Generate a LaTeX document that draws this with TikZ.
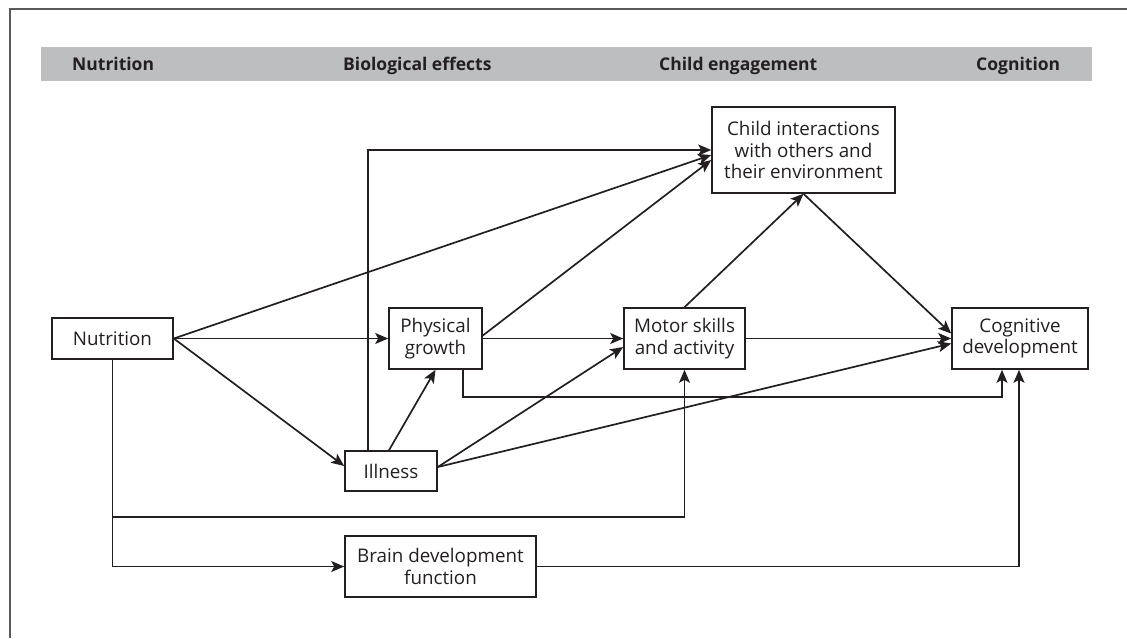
\documentclass[tikz,border=0pt]{standalone}
\usepackage{fontspec}
\setmainfont{Open Sans}
\usetikzlibrary{arrows.meta,calc}
\definecolor{ink}{HTML}{231F20}
\definecolor{bandgray}{HTML}{BCBEC0}
\definecolor{framegray}{HTML}{58595B}
\begin{document}
\begin{tikzpicture}[x=1pt,y=-1pt,
  box/.style={draw=ink, line width=1.6pt, inner sep=0pt, align=center, text=ink,
    font=\fontsize{18.8}{21.7}\selectfont},
  arr/.style={draw=ink, line width=1.7pt, -{Stealth[length=13pt,width=11pt,inset=3pt]}},
  head/.style={anchor=base west, inner sep=0pt, text=ink, font=\fontsize{17.5}{20}\selectfont\bfseries}]
\useasboundingbox (0,0) rectangle (1127,638);
\draw[framegray, line width=1.5pt] (10,638) -- (10,9) -- (1127,9);
\fill[bandgray] (41,47) rectangle (1092,81);
\node[head] (h1) at (72,70) {Nutrition};
\node[head] (h2) at (343,70) {Biological effects};
\node[head] (h3) at (659,70) {Child engagement};
\node[head] (h4) at (976,70) {Cognition};

\node[box, minimum width=121pt, minimum height=41pt] (nut) at (112.5,338.5) {Nutrition};
\node[box, minimum width=93pt, minimum height=61pt] (phys) at (435.5,338.5) {Physical\\growth};
\node[box, minimum width=92pt, minimum height=40pt] (ill) at (391,471) {Illness};
\node[box, minimum width=121pt, minimum height=61pt] (motor) at (684.5,338.5) {Motor skills\\and activity};
\node[box, minimum width=183pt, minimum height=86pt] (child) at (803.5,150) {Child interactions\\with others and\\their environment};
\node[box, minimum width=136pt, minimum height=61pt] (cog) at (1020,338.5) {Cognitive\\development};
\node[box, minimum width=191pt, minimum height=61pt] (brain) at (440.5,566.5) {Brain development\\function};

\coordinate (j) at ([yshift=-157pt]nut.south);

\draw[arr] (nut.east) -- (phys.west);
\draw[arr] (nut.east) -- ([yshift=-5pt]child.west);
\draw[arr] (nut.east) -- ([yshift=5pt]ill.west);
\draw[arr] ([xshift=-2pt]ill.north) -- (phys.south);
\draw[arr] ([xshift=-23pt]ill.north) |- (child.west);
\draw[arr] ([yshift=3pt]phys.east) -- ([yshift=-10pt]child.west);
\draw[arr] (phys.east) -- (motor.west);
\draw[arr] ([xshift=27.5pt]phys.south) -- ++(0,27) -| ([xshift=-18pt]cog.south);
\draw[arr] ([yshift=4pt]ill.east) -- ([yshift=-8.5pt]motor.west);
\draw[arr] ([yshift=4pt]ill.east) -- ([yshift=-5pt]cog.west);
\draw[arr] (motor.east) -- (cog.west);
\draw[arr] (motor.north) -- (child.south);
\draw[arr] (child.south) -- ([yshift=5pt]cog.west);
\draw[arr] (nut.south) |- (brain.west);
\draw[arr] (j) -| (motor.south);
\draw[arr] (brain.east) -| ([xshift=-1pt]cog.south);
\end{tikzpicture}
\end{document}
